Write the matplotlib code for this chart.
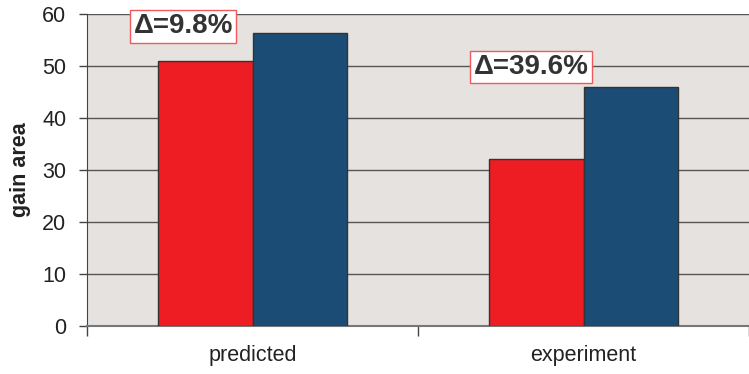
import numpy as np
import matplotlib
matplotlib.use('Agg')
from matplotlib import pyplot as plt

plt.rcParams['font.family'] = ['Liberation Sans', 'DejaVu Sans']

# data
cats = ['predicted', 'experiment']
red_vals = [51.0, 32.1]
blue_vals = [56.4, 45.9]
deltas = ['\u0394=9.8%', '\u0394=39.6%']
delta_pos = [(-0.21, 57.6), (0.841, 49.8)]

fig = plt.figure(figsize=(7.49, 3.74), dpi=100)
ax = fig.add_axes([0.1165, 0.1283, 0.8835, 0.8343])
ax.set_facecolor('#E6E2DF')

x = np.arange(len(cats))
w = 0.286
ax.bar(x - w/2, red_vals, w, color='#EE1D23', edgecolor='#333333', linewidth=1, zorder=3)
ax.bar(x + w/2, blue_vals, w, color='#1B4C76', edgecolor='#333333', linewidth=1, zorder=3)

ax.set_ylim(0, 60)
ax.set_xlim(-0.5, 1.479)
ax.set_yticks(range(0, 61, 10))
ax.yaxis.grid(True, color='#555555', linewidth=1)
ax.set_axisbelow(True)

# category labels in the middle, tick marks on the boundaries
ax.set_xticks(x)
ax.set_xticklabels(cats, fontsize=15.5, color='#222222')
ax.tick_params(axis='x', length=0, pad=14)
ax.set_xticks([-0.5, 0.5, 1.5], minor=True)
ax.tick_params(axis='x', which='minor', length=7, width=1, color='#444444', direction='out')
ax.tick_params(axis='y', length=6, width=1, color='#444444', labelsize=15.5, labelcolor='#222222', pad=9)

for s in ['top', 'right']:
    ax.spines[s].set_visible(False)
ax.spines['left'].set_color('#444444')
ax.spines['bottom'].set_color('#777777')
ax.spines['bottom'].set_linewidth(1.5)

ax.set_ylabel('gain area', fontsize=15.5, fontweight='bold', color='#222222', labelpad=8)

for t, (px, py) in zip(deltas, delta_pos):
    ax.text(px, py, t, fontsize=20, fontweight='bold', color='#333333',
            ha='center', va='center', zorder=5,
            bbox=dict(boxstyle='square,pad=0.12', facecolor='white', edgecolor='#F05A5F', linewidth=1))

fig.savefig('out.png', dpi=100)
